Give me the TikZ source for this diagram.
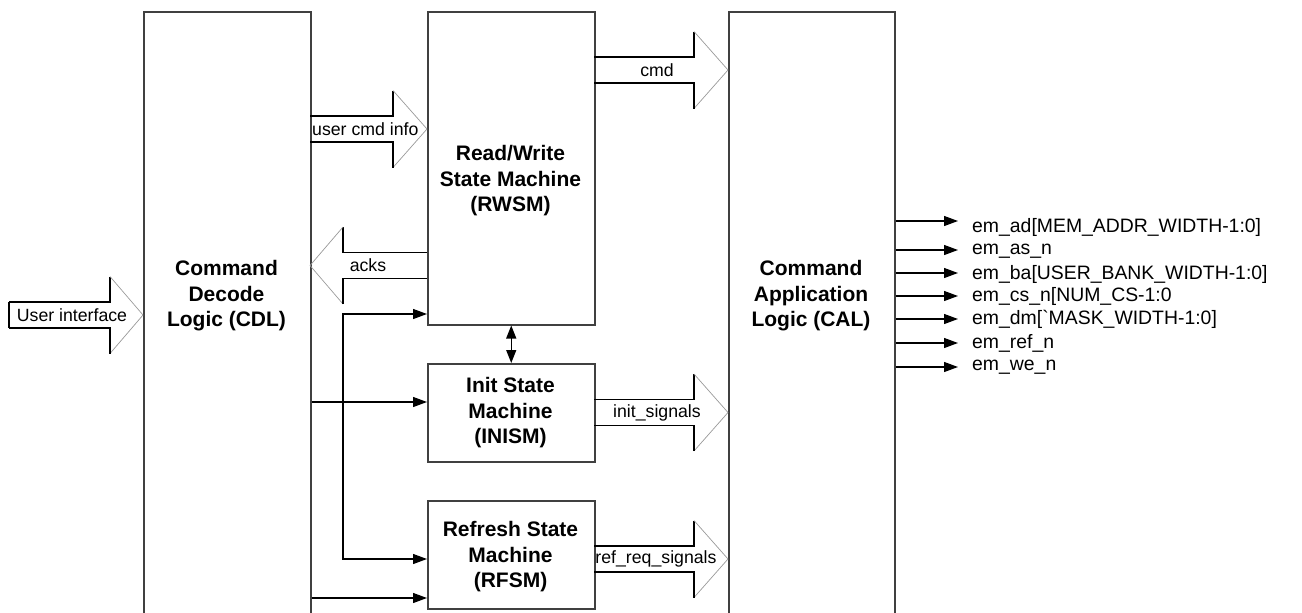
\documentclass[tikz,border=0pt]{standalone}
\usepackage{fontspec}
\setmainfont{Liberation Sans}
\usetikzlibrary{arrows.meta}
\definecolor{boxc}{gray}{0.25}
\definecolor{headc}{gray}{0.6}
\newcommand\hollowarrow[4]{% x0 xb x1 yc
  \draw[shaft] (#1,#4-13) -- (#2,#4-13) -- (#2,#4-38.5);
  \draw[headline] (#2,#4-38.5) -- (#3,#4) -- (#2,#4+38.5);
  \draw[shaft] (#2,#4+38.5) -- (#2,#4+13) -- (#1,#4+13);
}
\begin{document}
\begin{tikzpicture}[x=1pt,y=-1pt,
  box/.style={draw=boxc, line width=1.5pt, inner sep=0pt, anchor=north west},
  title/.style={align=center, font=\fontsize{21}{25.5}\selectfont\bfseries, inner sep=0pt},
  lbl/.style={font=\fontsize{17.7}{20}\selectfont, inner sep=0pt},
  outlbl/.style={font=\fontsize{19.4}{22}\selectfont, anchor=west, inner sep=0pt},
  conn/.style={line width=1.25pt, -{Triangle[length=14pt,width=10pt]}},
  shaft/.style={line width=1.2pt, line join=miter},
  headline/.style={line width=0.7pt, draw=headc}]
\useasboundingbox (0,0) rectangle (1302,613);
\clip (0,0) rectangle (1302,613);

% blocks
\node[box, minimum width=167pt, minimum height=640pt] (cdl) at (143,11) {};
\node[box, minimum width=167pt, minimum height=313pt] (rwsm) at (427,11) {};
\node[box, minimum width=167pt, minimum height=98pt] (inism) at (427,363) {};
\node[box, minimum width=167pt, minimum height=108pt] (rfsm) at (427,500) {};
\node[box, minimum width=166pt, minimum height=640pt] (cal) at (728,11) {};

\node[title] (cdlt) at (226.5,296) {Command\\Decode\\Logic (CDL)};
\node[title] (calt) at (811,296) {Command\\Application\\Logic (CAL)};
\node[title] (rwsmt) at (510.5,181) {Read/Write\\State Machine\\(RWSM)};
\node[title] (inismt) at (510.5,413) {Init State\\Machine\\(INISM)};
\node[title] (rfsmt) at (510.5,557) {Refresh State\\Machine\\(RFSM)};

% hollow bus arrows
\hollowarrow{9}{110}{143}{315}
\draw[shaft] (9,302) -- (9,328);
\node[lbl] (uil) at (72,315) {User interface};

\hollowarrow{310}{393}{427}{129}
\node[lbl, anchor=west] (ucl) at (312,129) {user cmd info};

\hollowarrow{427}{343}{310}{265.5}
\node[lbl] (ackl) at (368,265.5) {acks};

\hollowarrow{594}{694}{728}{70}
\node[lbl] (cmdl) at (657,70) {cmd};

\hollowarrow{594}{694}{728}{412.5}
\node[lbl] (initl) at (657,412.5) {init\_signals};

\hollowarrow{594}{694}{728}{559}
\node[lbl] (refl) at (656,559) {ref\_req\_signals};

% control connectors
\coordinate (bus) at (343,402);
\coordinate (b1) at (343,314);
\coordinate (b2) at (343,559);
\coordinate (b3) at (343,598);
\draw[conn] (cdl.east |- bus) -- (inism.west |- bus);
\draw[conn] (b2) |- (rwsm.west |- b1);
\draw[conn] (b1) |- (rfsm.west |- b2);
\draw[conn] (cdl.east |- b3) -- (rfsm.west |- b3);
\draw[line width=1.25pt, {Triangle[length=13pt,width=10pt]}-{Triangle[length=13pt,width=10pt]}] (rwsm.south) -- (inism.north);

% outputs
\foreach \i/\y/\ty/\t in {1/221/227/{em\_ad[MEM\_ADDR\_WIDTH-1:0]},
  2/250/251/{em\_as\_n},
  3/273/274/{em\_ba[USER\_BANK\_WIDTH-1:0]},
  4/296/296/{em\_cs\_n[NUM\_CS-1:0},
  5/319/319/{em\_dm[\textasciigrave MASK\_WIDTH-1:0]},
  6/343/343/{em\_ref\_n},
  7/367/367/{em\_we\_n}}{
  \coordinate (o\i) at (958,\y);
  \draw[conn] (cal.east |- o\i) -- (o\i);
  \node[outlbl] (ol\i) at (972,\ty) {\t};
}
\end{tikzpicture}
\end{document}
